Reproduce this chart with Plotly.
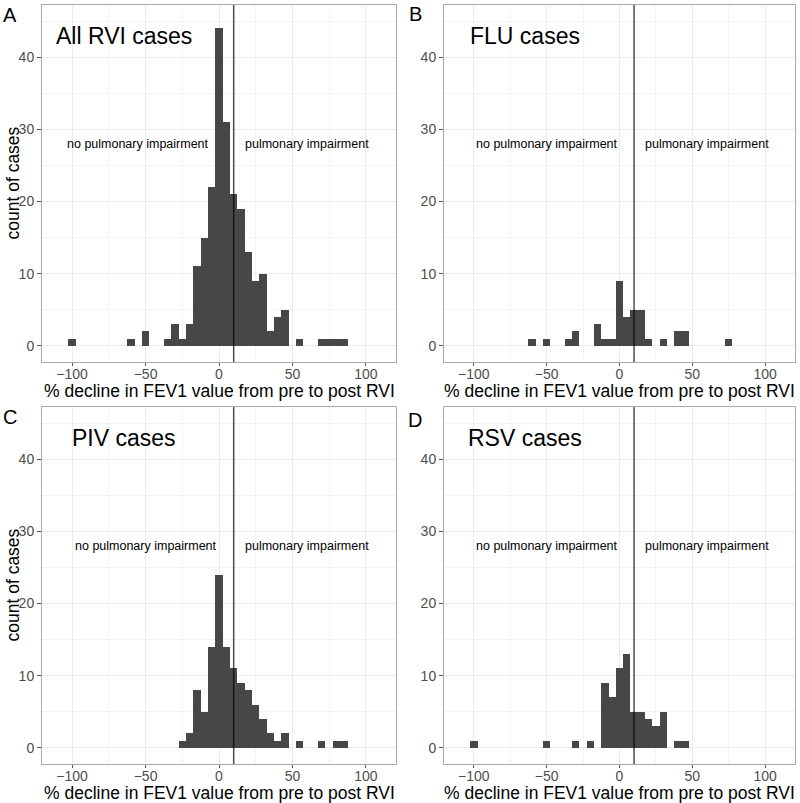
import plotly.graph_objects as go

# ---- data (bin centers, bin width 5) ----
all_bins = [-100, -60, -50, -35, -30, -25, -20, -15, -10, -5, 0, 5, 10, 15, 20, 25, 30, 35, 40, 45, 55, 70, 75, 80, 85]
all_counts = [1, 1, 2, 1, 3, 1, 3, 11, 15, 22, 44, 31, 21, 19, 13, 9, 10, 2, 4, 5, 1, 1, 1, 1, 1]

flu_bins = [-60, -50, -35, -30, -15, -10, -5, 0, 5, 10, 15, 20, 30, 40, 45, 75]
flu_counts = [1, 1, 1, 2, 3, 1, 1, 9, 4, 5, 5, 1, 1, 2, 2, 1]

piv_bins = [-25, -20, -15, -10, -5, 0, 5, 10, 15, 20, 25, 30, 35, 40, 45, 55, 70, 80, 85]
piv_counts = [1, 2, 8, 5, 14, 24, 14, 11, 9, 8, 6, 4, 2, 1, 2, 1, 1, 1, 1]

rsv_bins = [-100, -50, -30, -20, -10, -5, 0, 5, 10, 15, 20, 25, 30, 40, 45]
rsv_counts = [1, 1, 1, 1, 9, 7, 11, 13, 5, 5, 4, 3, 5, 1, 1]

panel_titles = ["All RVI cases", "FLU cases", "PIV cases", "RSV cases"]
panel_letters = ["A", "B", "C", "D"]
left_label_x = [-55, -50, -50, -50]
right_label_x = [60, 60, 60, 60]
threshold = 10
bin_width = 5
x_ticks = [-100, -50, 0, 50, 100]
y_ticks = [0, 10, 20, 30, 40]
x_title = "% decline in FEV1 value from pre to post RVI"
y_title = "count of cases"

panels = [(all_bins, all_counts), (flu_bins, flu_counts), (piv_bins, piv_counts), (rsv_bins, rsv_counts)]

W, H = 800, 803
# pixel boxes (left, right, top, bottom)
boxes = [(42, 396, 5, 362), (444, 795, 5, 362), (42, 396, 407, 764), (444, 795, 407, 764)]
letter_pos = [(10, 15), (415, 14), (10, 417), (415, 420)]

fig = go.Figure()
FONT = "Liberation Sans, Arial, sans-serif"

for i, ((bx, by), (l, r, t, b)) in enumerate(zip(panels, boxes)):
    n = i + 1
    xa = "x" if n == 1 else f"x{n}"
    ya = "y" if n == 1 else f"y{n}"
    fig.add_trace(go.Bar(x=bx, y=by, width=bin_width, marker=dict(color="#474747", line=dict(width=0)),
                         xaxis=xa, yaxis=ya, showlegend=False, hoverinfo="x+y"))
    axkw = dict(
        showline=True, mirror=True, linecolor="#AAAAAA", linewidth=1,
        ticks="outside", ticklen=4, tickcolor="#555555", tickwidth=1,
        gridcolor="#EBEBEB", gridwidth=1, zeroline=False, automargin=False,
        tickfont=dict(family=FONT, size=14, color="#4D4D4D"),
        minor=dict(showgrid=True, gridcolor="#F3F3F3", gridwidth=0.6, ticks=""),
    )
    xkw = dict(axkw)
    xkw["minor"] = dict(axkw["minor"], dtick=25, tick0=-125)
    ykw = dict(axkw)
    ykw["minor"] = dict(axkw["minor"], dtick=5, tick0=-5)
    fig.layout[f"xaxis{'' if n == 1 else n}"] = dict(
        xkw, domain=[l / W, r / W], range=[-120.5, 120.5], tickvals=x_ticks, anchor=ya,
        ticklen=3, ticklabelstandoff=-4,
    )
    fig.layout[f"yaxis{'' if n == 1 else n}"] = dict(
        ykw, domain=[1 - b / H, 1 - t / H], range=[-2.25, 47.25], tickvals=y_ticks, anchor=xa,
    )

    # axis titles
    fig.add_annotation(x=(l + r) / 2 / W, y=1 - (b + 29) / H, xref="paper", yref="paper", text=x_title,
                       showarrow=False, font=dict(family=FONT, size=17.5, color="black"),
                       xanchor="center", yanchor="middle")
    if n in (1, 3):
        fig.add_annotation(x=12 / W, y=1 - (t + b) / 2 / H, xref="paper", yref="paper", text=y_title,
                           showarrow=False, textangle=-90, font=dict(family=FONT, size=17.5, color="black"),
                           xanchor="center", yanchor="middle")

    fig.add_shape(type="line", xref=xa, yref=f"{ya} domain", x0=threshold, x1=threshold, y0=0, y1=1,
                  line=dict(color="rgba(0,0,0,0.7)", width=1.5))
    fig.add_annotation(x=-65, y=43, xref=xa, yref=ya, text=panel_titles[i], showarrow=False,
                       font=dict(family=FONT, size=23, color="black"), xanchor="center", yanchor="middle")
    fig.add_annotation(x=left_label_x[i], y=28, xref=xa, yref=ya, text="no pulmonary impairment", showarrow=False,
                       font=dict(family=FONT, size=12.5, color="black"), xanchor="center", yanchor="middle")
    fig.add_annotation(x=right_label_x[i], y=28, xref=xa, yref=ya, text="pulmonary impairment", showarrow=False,
                       font=dict(family=FONT, size=12.5, color="black"), xanchor="center", yanchor="middle")
    lx, ly = letter_pos[i]
    fig.add_annotation(x=lx / W, y=1 - ly / H, xref="paper", yref="paper", text=panel_letters[i], showarrow=False,
                       font=dict(family=FONT, size=20, color="black"), xanchor="center", yanchor="middle")

fig.update_layout(
    width=W, height=H, margin=dict(l=0, r=0, t=0, b=0),
    paper_bgcolor="white", plot_bgcolor="white", bargap=0,
)
fig.write_html("out.html", config={"displayModeBar": False},
               post_script="document.body.style.margin='0';document.body.style.padding='0';")
